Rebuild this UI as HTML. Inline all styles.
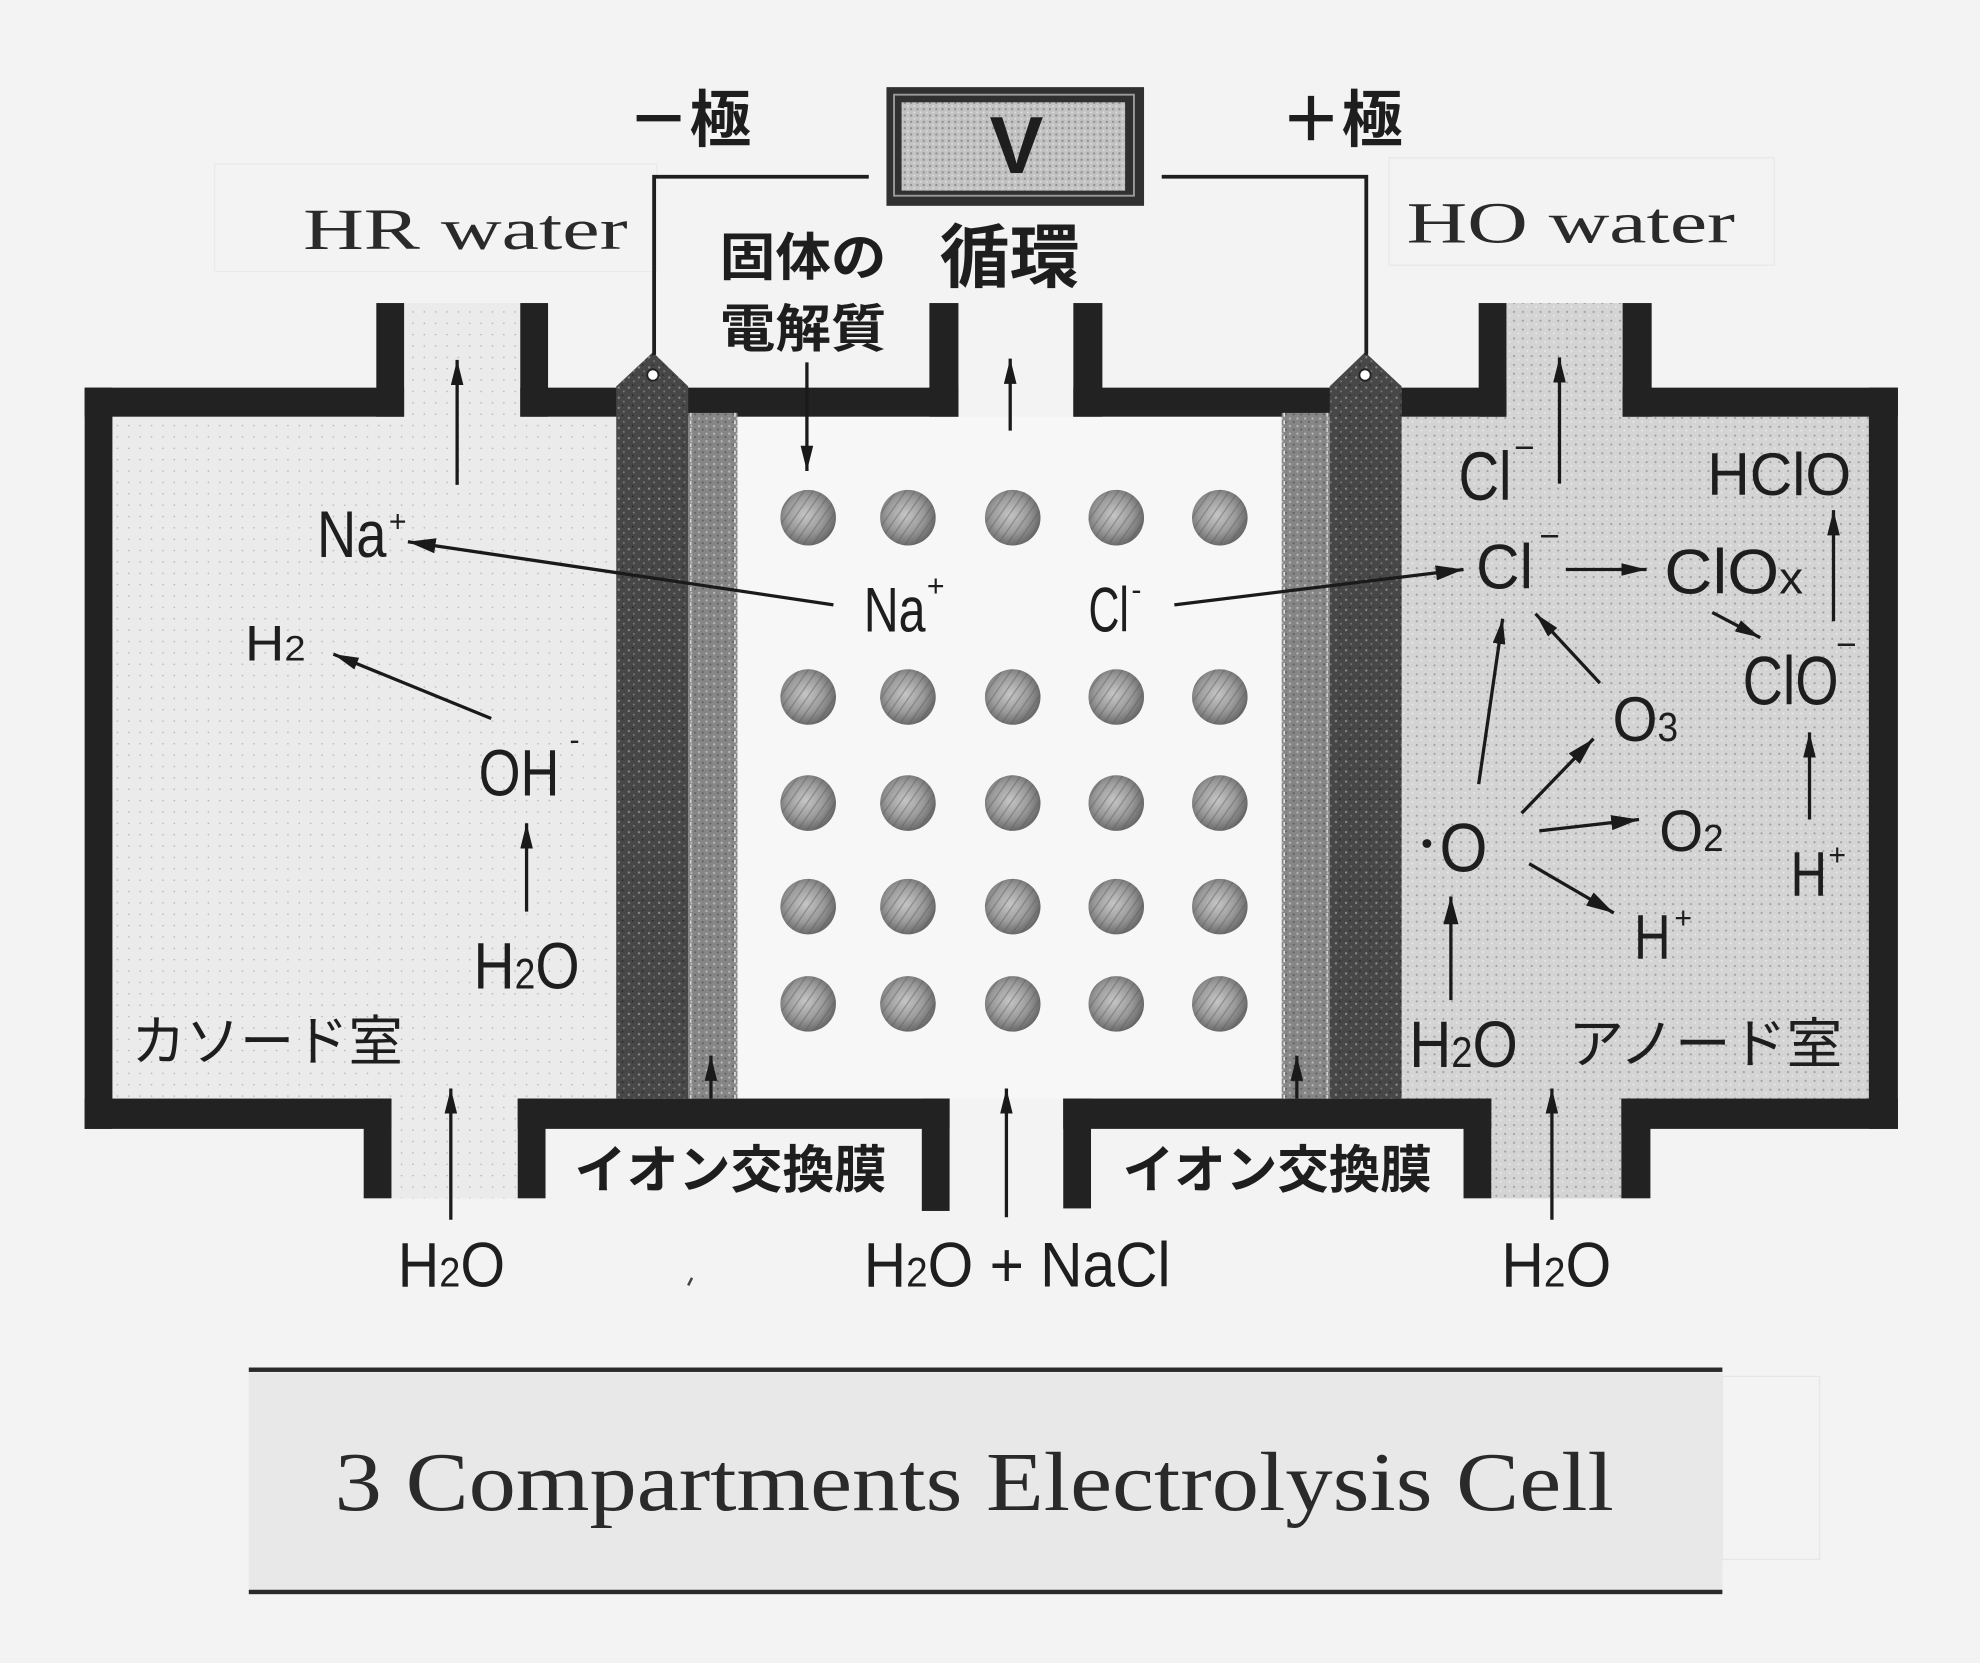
<!DOCTYPE html>
<html><head><meta charset="utf-8"><style>
html,body{margin:0;padding:0;background:#f3f3f3;}
svg{display:block;}
.s{font-family:"Liberation Sans","Noto Sans CJK JP",sans-serif;fill:#1e1e1e;}
.j{font-family:"Liberation Sans","Noto Sans CJK JP",sans-serif;fill:#1e1e1e;}
.r{font-family:"Liberation Serif","Noto Serif CJK SC",serif;fill:#2a2a2a;}
</style></head><body>
<svg width="1980" height="1663" viewBox="0 0 1568 1317" xmlns="http://www.w3.org/2000/svg">
<defs>
<marker id="a" viewBox="0 0 20 10" refX="20" refY="5" markerWidth="20" markerHeight="10" markerUnits="userSpaceOnUse" orient="auto"><path d="M0,0 L20,5 L0,10 z" fill="#1a1a1a"/></marker>
<marker id="b" viewBox="0 0 22 12" refX="22" refY="6" markerWidth="22" markerHeight="12" markerUnits="userSpaceOnUse" orient="auto"><path d="M0,0 L22,6 L0,12 z" fill="#1a1a1a"/></marker>
<radialGradient id="ball" cx="45%" cy="45%" r="55%">
<stop offset="0" stop-color="#c6c6c6"/><stop offset="0.6" stop-color="#9a9a9a"/><stop offset="1" stop-color="#6a6a6a"/>
</radialGradient>
<pattern id="hatch" width="6" height="6" patternUnits="userSpaceOnUse" patternTransform="rotate(35)">
<rect width="6" height="6" fill="none"/><line x1="0" y1="0" x2="0" y2="6" stroke="#5a5a5a" stroke-width="2" opacity="0.45"/>
</pattern>
<pattern id="dk" width="8" height="8" patternUnits="userSpaceOnUse">
<rect width="8" height="8" fill="#474747"/><circle cx="2" cy="3" r="0.9" fill="#8a8a8a"/><circle cx="6" cy="6" r="0.8" fill="#777"/><circle cx="5" cy="1" r="0.6" fill="#222"/>
</pattern>
<pattern id="mb" width="6" height="6" patternUnits="userSpaceOnUse">
<rect width="6" height="6" fill="#868686"/><circle cx="1.5" cy="1.5" r="0.9" fill="#b8b8b8"/><circle cx="4.5" cy="4.2" r="0.8" fill="#5e5e5e"/>
</pattern>
<pattern id="an" width="7" height="7" patternUnits="userSpaceOnUse">
<rect width="7" height="7" fill="#d4d4d4"/><circle cx="2" cy="2" r="0.8" fill="#9c9c9c"/><circle cx="5.5" cy="5" r="0.7" fill="#ededed"/>
</pattern>
<pattern id="ca" width="9" height="9" patternUnits="userSpaceOnUse">
<rect width="9" height="9" fill="#ebebeb"/><circle cx="3" cy="4" r="0.6" fill="#b0b0b0"/>
</pattern>
<pattern id="vb" width="5" height="5" patternUnits="userSpaceOnUse">
<rect width="5" height="5" fill="#c2c2c2"/><circle cx="1.5" cy="1.5" r="0.9" fill="#8e8e8e"/><circle cx="4" cy="4" r="0.7" fill="#e2e2e2"/>
</pattern>
</defs>

<rect x="0" y="0" width="1568" height="1317" fill="#f3f3f3"/>

<!-- faint ghost frames -->
<rect x="170" y="130" width="350" height="85" fill="none" stroke="#eaeaea" stroke-width="1"/>
<rect x="1100" y="125" width="305" height="85" fill="none" stroke="#e8e8e8" stroke-width="1"/>

<!-- chamber fills -->
<rect x="89" y="330" width="400" height="540" fill="url(#ca)"/>
<rect x="320" y="240" width="92" height="90" fill="url(#ca)"/>
<rect x="310" y="870" width="100" height="79" fill="url(#ca)"/>
<rect x="584" y="330" width="431" height="540" fill="#f7f7f7"/>
<rect x="1108" y="330" width="372" height="540" fill="url(#an)"/>
<rect x="1193" y="240" width="92" height="90" fill="url(#an)"/>
<rect x="1181" y="870" width="103" height="79" fill="url(#an)"/>

<!-- walls -->
<g fill="#222">
<rect x="67" y="307" width="22" height="587"/>
<rect x="67" y="307" width="253" height="23"/>
<rect x="298" y="240" width="22" height="90"/>
<rect x="412" y="240" width="22" height="90"/>
<rect x="412" y="307" width="347" height="23"/>
<rect x="736" y="240" width="23" height="90"/>
<rect x="850" y="240" width="23" height="90"/>
<rect x="850" y="307" width="343" height="23"/>
<rect x="1171" y="240" width="22" height="90"/>
<rect x="1285" y="240" width="23" height="90"/>
<rect x="1285" y="307" width="218" height="23"/>
<rect x="1480" y="307" width="23" height="587"/>
<rect x="67" y="870" width="243" height="24"/>
<rect x="288" y="870" width="22" height="79"/>
<rect x="410" y="870" width="342" height="24"/>
<rect x="410" y="870" width="22" height="79"/>
<rect x="730" y="870" width="22" height="89"/>
<rect x="842" y="870" width="339" height="24"/>
<rect x="842" y="870" width="22" height="87"/>
<rect x="1159" y="870" width="22" height="79"/>
<rect x="1284" y="870" width="219" height="24"/>
<rect x="1284" y="870" width="23" height="79"/>
</g>

<!-- electrodes & membranes -->
<rect x="545" y="327" width="39" height="543" fill="url(#mb)"/>
<line x1="547" y1="327" x2="547" y2="870" stroke="#d8d8d8" stroke-width="1.2" stroke-dasharray="3,3"/>
<line x1="582" y1="327" x2="582" y2="870" stroke="#e6e6e6" stroke-width="1.2" stroke-dasharray="3,3"/>
<path d="M488,870 L488,306 L517,279 L545,306 L545,870 Z" fill="url(#dk)"/>
<rect x="1015" y="327" width="38" height="543" fill="url(#mb)"/>
<line x1="1017" y1="327" x2="1017" y2="870" stroke="#e6e6e6" stroke-width="1.2" stroke-dasharray="3,3"/>
<line x1="1051" y1="327" x2="1051" y2="870" stroke="#d8d8d8" stroke-width="1.2" stroke-dasharray="3,3"/>
<path d="M1053,870 L1053,306 L1081,279 L1110,306 L1110,870 Z" fill="url(#dk)"/>

<!-- wires -->
<g stroke="#1e1e1e" stroke-width="3" fill="none">
<path d="M688,140 L518,140 L518,281"/>
<path d="M920,140 L1082,140 L1082,281"/>
</g>
<circle cx="517" cy="297" r="4.5" fill="#fff" stroke="#222" stroke-width="1.5"/>
<circle cx="1081" cy="297" r="4.5" fill="#fff" stroke="#222" stroke-width="1.5"/>

<!-- V box -->
<rect x="702" y="69" width="204" height="94" fill="#303030"/>
<rect x="708" y="75" width="190" height="80" fill="none" stroke="#9a9a9a" stroke-width="1.5"/>
<rect x="714" y="81" width="177" height="70" fill="url(#vb)"/>
<text x="805" y="137" class="s" font-size="64" font-weight="bold" text-anchor="middle" fill="#2a2a2a">V</text>

<!-- balls -->
<g>
<g fill="url(#ball)">
<circle cx="640" cy="410" r="22"/><circle cx="719" cy="410" r="22"/><circle cx="802" cy="410" r="22"/><circle cx="884" cy="410" r="22"/><circle cx="966" cy="410" r="22"/>
<circle cx="640" cy="552" r="22"/><circle cx="719" cy="552" r="22"/><circle cx="802" cy="552" r="22"/><circle cx="884" cy="552" r="22"/><circle cx="966" cy="552" r="22"/>
<circle cx="640" cy="636" r="22"/><circle cx="719" cy="636" r="22"/><circle cx="802" cy="636" r="22"/><circle cx="884" cy="636" r="22"/><circle cx="966" cy="636" r="22"/>
<circle cx="640" cy="718" r="22"/><circle cx="719" cy="718" r="22"/><circle cx="802" cy="718" r="22"/><circle cx="884" cy="718" r="22"/><circle cx="966" cy="718" r="22"/>
<circle cx="640" cy="795" r="22"/><circle cx="719" cy="795" r="22"/><circle cx="802" cy="795" r="22"/><circle cx="884" cy="795" r="22"/><circle cx="966" cy="795" r="22"/>
</g>
<g fill="url(#hatch)">
<circle cx="640" cy="410" r="22"/><circle cx="719" cy="410" r="22"/><circle cx="802" cy="410" r="22"/><circle cx="884" cy="410" r="22"/><circle cx="966" cy="410" r="22"/>
<circle cx="640" cy="552" r="22"/><circle cx="719" cy="552" r="22"/><circle cx="802" cy="552" r="22"/><circle cx="884" cy="552" r="22"/><circle cx="966" cy="552" r="22"/>
<circle cx="640" cy="636" r="22"/><circle cx="719" cy="636" r="22"/><circle cx="802" cy="636" r="22"/><circle cx="884" cy="636" r="22"/><circle cx="966" cy="636" r="22"/>
<circle cx="640" cy="718" r="22"/><circle cx="719" cy="718" r="22"/><circle cx="802" cy="718" r="22"/><circle cx="884" cy="718" r="22"/><circle cx="966" cy="718" r="22"/>
<circle cx="640" cy="795" r="22"/><circle cx="719" cy="795" r="22"/><circle cx="802" cy="795" r="22"/><circle cx="884" cy="795" r="22"/><circle cx="966" cy="795" r="22"/>
</g>
</g>

<!-- arrows -->
<g stroke="#1a1a1a" stroke-width="2.6" fill="none">
<line x1="362" y1="384" x2="362" y2="285" marker-end="url(#a)"/>
<line x1="660" y1="479" x2="323" y2="429" marker-end="url(#b)"/>
<line x1="389" y1="569" x2="264" y2="518" marker-end="url(#a)"/>
<line x1="417" y1="722" x2="417" y2="652" marker-end="url(#a)"/>
<line x1="357" y1="966" x2="357" y2="862" marker-end="url(#a)"/>
<line x1="639" y1="287" x2="639" y2="373" marker-end="url(#a)"/>
<line x1="800" y1="341" x2="800" y2="284" marker-end="url(#a)"/>
<line x1="797" y1="964" x2="797" y2="862" marker-end="url(#a)"/>
<line x1="1229" y1="966" x2="1229" y2="862" marker-end="url(#a)"/>
<line x1="563" y1="870" x2="563" y2="836" marker-end="url(#a)"/>
<line x1="1027" y1="870" x2="1027" y2="836" marker-end="url(#a)"/>
<line x1="930" y1="479" x2="1159" y2="451" marker-end="url(#b)"/>
<line x1="1235" y1="383" x2="1235" y2="283" marker-end="url(#a)"/>
<line x1="1240" y1="451" x2="1304" y2="451" marker-end="url(#a)"/>
<line x1="1356" y1="485" x2="1394" y2="505" marker-end="url(#a)"/>
<line x1="1452" y1="492" x2="1452" y2="404" marker-end="url(#a)"/>
<line x1="1267" y1="541" x2="1216" y2="486" marker-end="url(#a)"/>
<line x1="1171" y1="621" x2="1190" y2="490" marker-end="url(#a)"/>
<line x1="1205" y1="644" x2="1262" y2="585" marker-end="url(#b)"/>
<line x1="1219" y1="658" x2="1298" y2="649" marker-end="url(#b)"/>
<line x1="1211" y1="684" x2="1278" y2="723" marker-end="url(#b)"/>
<line x1="1433" y1="649" x2="1433" y2="580" marker-end="url(#a)"/>
<line x1="1149" y1="792" x2="1149" y2="710" marker-end="url(#b)"/>
</g>
<line x1="548" y1="1012" x2="545" y2="1018" stroke="#444" stroke-width="2"/>

<!-- top labels -->
<text x="497" y="112" class="j" font-size="49" font-weight="bold" textLength="98" lengthAdjust="spacingAndGlyphs">－極</text>
<text x="1014" y="112" class="j" font-size="49" font-weight="bold" textLength="97" lengthAdjust="spacingAndGlyphs">＋極</text>
<text x="240" y="197" class="r" font-size="46" textLength="257" lengthAdjust="spacingAndGlyphs">HR water</text>
<text x="1114" y="192" class="r" font-size="46" textLength="260" lengthAdjust="spacingAndGlyphs">HO water</text>
<text x="570" y="218" class="j" font-size="41" font-weight="bold" textLength="132" lengthAdjust="spacingAndGlyphs">固体の</text>
<text x="570" y="275" class="j" font-size="41" font-weight="bold" textLength="132" lengthAdjust="spacingAndGlyphs">電解質</text>
<text x="744" y="223" class="j" font-size="55" font-weight="bold" textLength="111" lengthAdjust="spacingAndGlyphs">循環</text>

<!-- left chamber labels -->
<text x="251" y="441" class="s" font-size="52" textLength="55" lengthAdjust="spacingAndGlyphs">Na</text>
<text x="308" y="421" class="s" font-size="24">+</text>
<text x="194" y="523" class="s" font-size="40" textLength="48" lengthAdjust="spacingAndGlyphs">H<tspan font-size="28">2</tspan></text>
<text x="379" y="630" class="s" font-size="52" textLength="64" lengthAdjust="spacingAndGlyphs">OH</text>
<text x="451" y="594" class="s" font-size="24">-</text>
<text x="375" y="783" class="s" font-size="52" textLength="84" lengthAdjust="spacingAndGlyphs">H<tspan font-size="34">2</tspan>O</text>
<text x="104" y="840" class="j" font-size="43" textLength="215" lengthAdjust="spacingAndGlyphs">カソード室</text>

<!-- center labels -->
<text x="684" y="500" class="s" font-size="50" textLength="49" lengthAdjust="spacingAndGlyphs">Na</text>
<text x="734" y="472" class="s" font-size="24">+</text>
<text x="862" y="500" class="s" font-size="50" textLength="32" lengthAdjust="spacingAndGlyphs">Cl</text>
<text x="896" y="475" class="s" font-size="24">-</text>

<!-- right chamber labels -->
<text x="1155" y="396" class="s" font-size="54" textLength="42" lengthAdjust="spacingAndGlyphs">Cl</text>
<text x="1199" y="364" class="s" font-size="28">−</text>
<text x="1352" y="392" class="s" font-size="48" textLength="114" lengthAdjust="spacingAndGlyphs">HClO</text>
<text x="1169" y="466" class="s" font-size="50" textLength="45" lengthAdjust="spacingAndGlyphs">Cl</text>
<text x="1219" y="434" class="s" font-size="28">−</text>
<text x="1318" y="470" class="s" font-size="50" textLength="110" lengthAdjust="spacingAndGlyphs">ClO<tspan font-size="36">x</tspan></text>
<text x="1380" y="558" class="s" font-size="54" textLength="76" lengthAdjust="spacingAndGlyphs">ClO</text>
<text x="1454" y="520" class="s" font-size="28">−</text>
<text x="1277" y="587" class="s" font-size="50" textLength="52" lengthAdjust="spacingAndGlyphs">O<tspan font-size="32">3</tspan></text>
<circle cx="1130" cy="668" r="3.5" fill="#1e1e1e"/>
<text x="1140" y="690" class="s" font-size="54" textLength="38" lengthAdjust="spacingAndGlyphs">O</text>
<text x="1314" y="674" class="s" font-size="46" textLength="51" lengthAdjust="spacingAndGlyphs">O<tspan font-size="30">2</tspan></text>
<text x="1294" y="759" class="s" font-size="50" textLength="29" lengthAdjust="spacingAndGlyphs">H</text>
<text x="1326" y="735" class="s" font-size="24">+</text>
<text x="1418" y="709" class="s" font-size="50" textLength="29" lengthAdjust="spacingAndGlyphs">H</text>
<text x="1448" y="685" class="s" font-size="24">+</text>
<text x="1116" y="845" class="s" font-size="52" textLength="86" lengthAdjust="spacingAndGlyphs">H<tspan font-size="34">2</tspan>O</text>
<text x="1242" y="842" class="j" font-size="43" textLength="217" lengthAdjust="spacingAndGlyphs">アノード室</text>

<!-- bottom labels -->
<text x="455" y="941" class="j" font-size="41" font-weight="bold" textLength="247" lengthAdjust="spacingAndGlyphs">イオン交換膜</text>
<text x="889" y="941" class="j" font-size="41" font-weight="bold" textLength="245" lengthAdjust="spacingAndGlyphs">イオン交換膜</text>
<text x="315" y="1019" class="s" font-size="50" textLength="85" lengthAdjust="spacingAndGlyphs">H<tspan font-size="33">2</tspan>O</text>
<text x="684" y="1019" class="s" font-size="50" textLength="243" lengthAdjust="spacingAndGlyphs">H<tspan font-size="33">2</tspan>O + NaCl</text>
<text x="1189" y="1019" class="s" font-size="50" textLength="87" lengthAdjust="spacingAndGlyphs">H<tspan font-size="33">2</tspan>O</text>

<!-- title -->
<rect x="197" y="1087" width="1167" height="172" fill="#e8e8e8"/>
<rect x="1364" y="1090" width="77" height="145" fill="none" stroke="#e6e6e6" stroke-width="1"/>
<rect x="197" y="1083" width="1167" height="3.5" fill="#2a2a2a"/>
<rect x="197" y="1259" width="1167" height="3.5" fill="#2a2a2a"/>
<text x="265" y="1196" class="r" font-size="66" textLength="1013" lengthAdjust="spacingAndGlyphs">3 Compartments Electrolysis Cell</text>
</svg>
</body></html>
